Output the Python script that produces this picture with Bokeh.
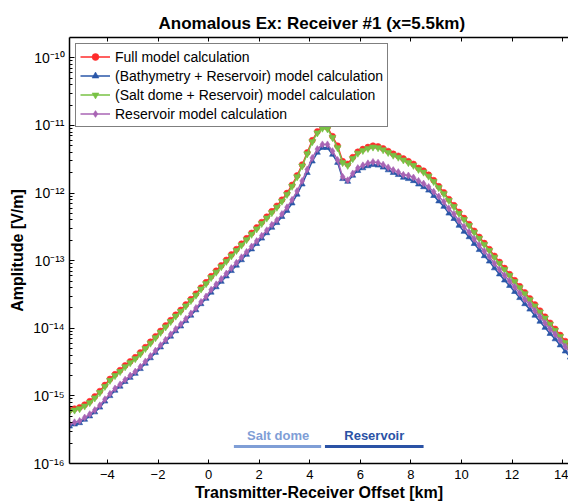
import numpy as np
from bokeh.plotting import figure
from bokeh.models import (FixedTicker, CustomJSTickFormatter, LinearAxis, Legend,
                          LegendItem, Range1d)
from bokeh.core.properties import value
from bokeh.embed import file_html
from bokeh.resources import INLINE

# ---------------- data ----------------
offset_km = [-5.5, -5.3, -5.1, -4.9, -4.7, -4.5, -4.3, -4.1, -3.9, -3.7,
             -3.5, -3.3, -3.1, -2.9, -2.7, -2.5, -2.3, -2.1, -1.9, -1.7,
             -1.5, -1.3, -1.1, -0.9, -0.7, -0.5, -0.3, -0.1, 0.1, 0.3,
             0.5, 0.7, 0.9, 1.1, 1.3, 1.5, 1.7, 1.9, 2.1, 2.3,
             2.5, 2.7, 2.9, 3.1, 3.3, 3.5, 3.7, 3.9, 4.1, 4.3,
             4.5, 4.7, 4.9, 5.1, 5.3, 5.5, 5.7, 5.9, 6.1, 6.3,
             6.5, 6.7, 6.9, 7.1, 7.3, 7.5, 7.7, 7.9, 8.1, 8.3,
             8.5, 8.7, 8.9, 9.1, 9.3, 9.5, 9.7, 9.9, 10.1, 10.3,
             10.5, 10.7, 10.9, 11.1, 11.3, 11.5, 11.7, 11.9, 12.1, 12.3,
             12.5, 12.7, 12.9, 13.1, 13.3, 13.5, 13.7, 13.9, 14.1, 14.3,
             14.5]

# log10 of amplitude [V/m]
full_log = [-15.21, -15.19, -15.17, -15.13, -15.08, -15.01, -14.93, -14.84, -14.75, -14.68,
            -14.62, -14.55, -14.49, -14.43, -14.36, -14.28, -14.20, -14.12, -14.04, -13.96,
            -13.88, -13.80, -13.73, -13.65, -13.57, -13.49, -13.40, -13.32, -13.23, -13.15,
            -13.07, -12.99, -12.91, -12.83, -12.75, -12.67, -12.59, -12.51, -12.43, -12.35,
            -12.27, -12.19, -12.10, -12.00, -11.88, -11.74, -11.58, -11.40, -11.22, -11.09,
            -11.02, -11.03, -11.16, -11.30, -11.53, -11.57, -11.47, -11.39, -11.35, -11.32,
            -11.30, -11.31, -11.34, -11.38, -11.42, -11.45, -11.49, -11.53, -11.57, -11.63,
            -11.67, -11.73, -11.81, -11.90, -11.99, -12.09, -12.18, -12.28, -12.37, -12.46,
            -12.56, -12.65, -12.74, -12.83, -12.93, -13.02, -13.11, -13.20, -13.29, -13.38,
            -13.47, -13.56, -13.65, -13.74, -13.83, -13.92, -14.01, -14.10, -14.19, -14.28,
            -14.37]

bathy_res_log = [-15.45, -15.42, -15.40, -15.35, -15.30, -15.24, -15.17, -15.08, -15.00, -14.92,
                 -14.86, -14.79, -14.73, -14.67, -14.60, -14.52, -14.44, -14.36, -14.28, -14.20,
                 -14.12, -14.04, -13.97, -13.89, -13.81, -13.73, -13.64, -13.56, -13.47, -13.39,
                 -13.31, -13.23, -13.15, -13.07, -12.99, -12.91, -12.83, -12.75, -12.67, -12.59,
                 -12.51, -12.44, -12.35, -12.26, -12.15, -12.02, -11.87, -11.70, -11.53, -11.40,
                 -11.33, -11.33, -11.43, -11.55, -11.79, -11.83, -11.74, -11.67, -11.63, -11.60,
                 -11.58, -11.59, -11.62, -11.66, -11.70, -11.73, -11.77, -11.79, -11.82, -11.87,
                 -11.91, -11.96, -12.04, -12.12, -12.20, -12.30, -12.38, -12.48, -12.57, -12.65,
                 -12.75, -12.84, -12.93, -13.01, -13.11, -13.20, -13.29, -13.37, -13.46, -13.55,
                 -13.64, -13.72, -13.81, -13.90, -13.99, -14.08, -14.16, -14.25, -14.34, -14.43,
                 -14.52]

salt_res_log = [-15.23, -15.21, -15.19, -15.15, -15.10, -15.03, -14.95, -14.86, -14.77, -14.70,
                -14.64, -14.57, -14.51, -14.45, -14.38, -14.30, -14.22, -14.14, -14.06, -13.98,
                -13.90, -13.82, -13.75, -13.67, -13.59, -13.51, -13.42, -13.34, -13.25, -13.17,
                -13.09, -13.01, -12.93, -12.85, -12.77, -12.69, -12.61, -12.53, -12.45, -12.37,
                -12.29, -12.21, -12.12, -12.02, -11.90, -11.76, -11.60, -11.42, -11.24, -11.11,
                -11.04, -11.05, -11.18, -11.33, -11.55, -11.59, -11.49, -11.41, -11.37, -11.34,
                -11.32, -11.33, -11.36, -11.40, -11.44, -11.47, -11.51, -11.55, -11.59, -11.65,
                -11.69, -11.75, -11.83, -11.92, -12.01, -12.11, -12.20, -12.30, -12.39, -12.48,
                -12.58, -12.67, -12.76, -12.85, -12.95, -13.04, -13.13, -13.22, -13.31, -13.40,
                -13.49, -13.58, -13.67, -13.76, -13.85, -13.94, -14.03, -14.12, -14.21, -14.30,
                -14.39]

reservoir_log = [-15.42, -15.39, -15.37, -15.32, -15.27, -15.21, -15.14, -15.05, -14.97, -14.89,
                 -14.83, -14.76, -14.70, -14.64, -14.57, -14.49, -14.41, -14.33, -14.25, -14.17,
                 -14.09, -14.01, -13.94, -13.86, -13.78, -13.70, -13.61, -13.53, -13.43, -13.35,
                 -13.27, -13.19, -13.11, -13.03, -12.95, -12.87, -12.79, -12.71, -12.63, -12.55,
                 -12.47, -12.40, -12.31, -12.21, -12.10, -11.97, -11.82, -11.65, -11.48, -11.35,
                 -11.28, -11.28, -11.38, -11.51, -11.76, -11.81, -11.71, -11.63, -11.59, -11.56,
                 -11.54, -11.55, -11.58, -11.62, -11.66, -11.69, -11.73, -11.74, -11.77, -11.82,
                 -11.86, -11.91, -11.98, -12.05, -12.13, -12.23, -12.31, -12.41, -12.50, -12.58,
                 -12.68, -12.77, -12.86, -12.94, -13.04, -13.13, -13.22, -13.30, -13.39, -13.48,
                 -13.57, -13.65, -13.74, -13.83, -13.92, -14.01, -14.09, -14.18, -14.27, -14.36,
                 -14.45]

series_labels = ["Full model calculation",
                 "(Bathymetry + Reservoir) model calculation",
                 "(Salt dome + Reservoir) model calculation",
                 "Reservoir model calculation"]

x_ticks = [-4, -2, 0, 2, 4, 6, 8, 10, 12, 14]
y_decades = [-16, -15, -14, -13, -12, -11, -10]

zone_labels = ["Salt dome", "Reservoir"]
zone_start = [1.0, 4.6]
zone_end = [4.45, 8.5]
zone_label_x = [2.75, 6.55]

# ---------------- figure ----------------
FONT = "Liberation Sans"

p = figure(width=568, height=503,
           x_range=Range1d(-5.5, 14.23), y_range=Range1d(1e-16, 2e-10),
           y_axis_type="log", output_backend="svg", toolbar_location=None,
           min_border_left=69, min_border_right=0, min_border_top=37,
           min_border_bottom=40,
           title="Anomalous Ex: Receiver #1 (x=5.5km)")
p.outline_line_color = None
p.background_fill_color = "white"
p.border_fill_color = "white"
p.xgrid.visible = False
p.ygrid.visible = False

p.title.align = "left"
p.title.offset = 89
p.title.text_font = FONT
p.title.text_font_size = "17px"
p.title.text_font_style = "bold"
p.title.text_color = "black"

# x axis
xa = p.xaxis[0]
xa.ticker = FixedTicker(ticks=x_ticks)
xa.axis_label = "Transmitter-Receiver Offset [km]"
xa.axis_label_text_font = FONT
xa.axis_label_text_font_size = "16px"
xa.axis_label_text_font_style = "bold"
xa.axis_label_text_color = "black"
xa.axis_label_standoff = 2
xa.major_label_text_font = FONT
xa.major_label_text_font_size = "13px"
xa.major_label_text_color = "black"
xa.major_label_standoff = 6
xa.major_tick_in = 4
xa.major_tick_out = 0
xa.minor_tick_in = 0
xa.minor_tick_out = 0
xa.axis_line_width = 1.5
xa.axis_line_color = "black"
xa.major_tick_line_color = "black"

# top axis (ticks only)
ta = LinearAxis(ticker=FixedTicker(ticks=x_ticks),
                formatter=CustomJSTickFormatter(code="return '';"),
                major_tick_in=4, major_tick_out=0, minor_tick_in=0, minor_tick_out=0,
                axis_line_width=1.5, major_label_standoff=0)
p.add_layout(ta, "above")

# y axis
minor = [m * 10.0 ** d for d in y_decades[:-1] for m in range(2, 10)]
ya = p.yaxis[0]
ya.ticker = FixedTicker(ticks=[10.0 ** d for d in y_decades], minor_ticks=minor)
ya.formatter = CustomJSTickFormatter(code="""
const sup = {'-':'\u207b','0':'\u2070','1':'\u00b9','2':'\u00b2','3':'\u00b3','4':'\u2074',
             '5':'\u2075','6':'\u2076','7':'\u2077','8':'\u2078','9':'\u2079'};
const e = Math.round(Math.log10(tick));
return '10' + String(e).split('').map(c => sup[c]).join('');
""")
ya.axis_label = "Amplitude [V/m]"
ya.axis_label_text_font = FONT
ya.axis_label_text_font_size = "16px"
ya.axis_label_text_font_style = "bold"
ya.axis_label_text_color = "black"
ya.axis_label_standoff = 4
ya.major_label_text_font = FONT
ya.major_label_text_font_size = "14px"
ya.major_label_text_color = "black"
ya.major_label_standoff = 5
ya.major_tick_in = 5
ya.major_tick_out = 0
ya.minor_tick_in = 3
ya.minor_tick_out = 0
ya.axis_line_width = 1.5
ya.axis_line_color = "black"

# ---------------- series ----------------
colors = ["#ff2b2b", "#2a57a8", "#78c245", "#a864b4"]
markers = ["circle", "triangle", "inverted_triangle", "diamond"]
sizes = [6, 6, 7, 7]
data = [full_log, bathy_res_log, salt_res_log, reservoir_log]

items = []
x_arr = np.array(offset_km)
for lab, col, mk, sz, d in zip(series_labels, colors, markers, sizes, data):
    y_arr = 10.0 ** np.array(d)
    lr = p.line(x_arr, y_arr, line_color=col, line_width=1.5)
    sr = p.scatter(x_arr, y_arr, marker=mk, size=sz, fill_color=col, line_color=col,
                   line_alpha=0.6)
    items.append(LegendItem(label=lab, renderers=[lr, sr]))

legend = Legend(items=items, location="top_left", margin=6,
                label_text_font=FONT, label_text_font_size="14px",
                label_text_color="black",
                label_height=17, glyph_height=17, glyph_width=30,
                label_standoff=5, spacing=2, padding=4,
                border_line_color="black", border_line_width=1.5,
                background_fill_alpha=1.0)
p.add_layout(legend)

# ---------------- zone annotations ----------------
zone_colors = ["#7f9ed6", "#2a52a5"]
line_y = 10.0 ** -15.75
text_y = 10.0 ** -15.59
p.segment(x0=zone_start, x1=zone_end, y0=[line_y] * 2, y1=[line_y] * 2,
          line_color=zone_colors, line_width=3)
p.text(x=zone_label_x, y=[text_y] * 2, text=zone_labels, text_color=zone_colors,
       text_font=value(FONT), text_font_size="13px", text_font_style="bold",
       text_align="center", text_baseline="middle")

open("out.html", "w").write(file_html(p, INLINE))
